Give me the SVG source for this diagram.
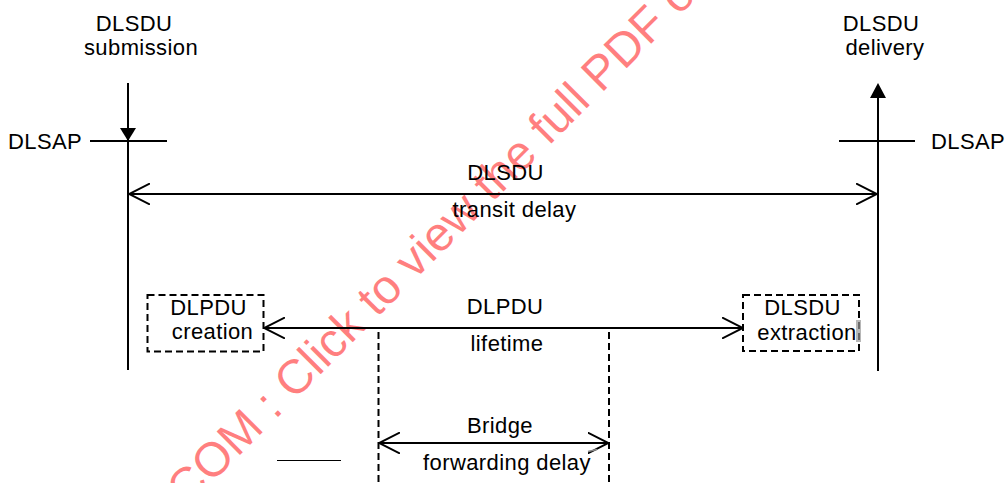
<svg xmlns="http://www.w3.org/2000/svg" width="1005" height="483" viewBox="0 0 1005 483">
  <style>
    .t { font-family: "Liberation Sans", Arial, sans-serif; font-size: 22px; fill: #000; letter-spacing: 0.4px; }
    .m { text-anchor: middle; }
    .ln { stroke: #000; stroke-width: 2; fill: none; }
    .dash { stroke: #000; stroke-width: 2; fill: none; stroke-dasharray: 7 4; }
    .wm { font-family: "Liberation Sans", Arial, sans-serif; font-size: 48px; fill: #ff0000; fill-opacity: 0.5; }
  </style>
  <defs>
    <marker id="open" viewBox="0 0 22 22" refX="21" refY="11" markerWidth="22" markerHeight="22" markerUnits="userSpaceOnUse" orient="auto-start-reverse">
      <polyline points="0,0.5 21,11 0,21.5" fill="none" stroke="#000" stroke-width="2"/>
    </marker>
  </defs>

  <rect width="1005" height="483" fill="#fff"/>

  <!-- watermark band -->
  <text class="wm" transform="translate(177,518) rotate(-45)">.COM : Click to view the full PDF of</text>

  <!-- service access points -->
  <g id="sap-left">
    <text class="t" x="8" y="149">DLSAP</text>
    <line class="ln" x1="90" y1="141" x2="167" y2="141"/>
  </g>
  <g id="sap-right">
    <text class="t" x="931" y="149">DLSAP</text>
    <line class="ln" x1="839" y1="141" x2="915" y2="141"/>
  </g>

  <g id="submission">
    <text class="t m" x="134" y="31">DLSDU</text>
    <text class="t m" x="141" y="55">submission</text>
  </g>
  <g id="delivery">
    <text class="t m" x="881" y="31">DLSDU</text>
    <text class="t m" x="885" y="55">delivery</text>
  </g>

  <g id="creation">
    <rect class="dash" x="147.5" y="295" width="116" height="56.5"/>
    <text class="t m" x="208.5" y="315">DLPDU</text>
    <text class="t m" x="212.5" y="339">creation</text>
  </g>
  <g id="extraction">
    <rect class="dash" x="743" y="295" width="116" height="56"/>
    <text class="t m" x="802.5" y="315">DLSDU</text>
    <text class="t m" x="807" y="340">extraction</text>
    <rect x="856" y="320" width="5" height="22" fill="#999" opacity="0.7"/>
  </g>

  <g id="transit-label">
    <text class="t m" x="505.5" y="180">DLSDU</text>
    <text class="t m" x="514.5" y="217">transit delay</text>
  </g>
  <g id="lifetime-label">
    <text class="t m" x="505" y="314">DLPDU</text>
    <text class="t m" x="507" y="351">lifetime</text>
  </g>
  <g id="bridge-label">
    <text class="t m" x="500" y="433">Bridge</text>
    <text class="t m" x="507" y="470">forwarding delay</text>
  </g>

  <g id="connectors">
    <!-- time axes of the two end stations -->
    <line class="ln" x1="128" y1="83" x2="128" y2="370"/>
    <line class="ln" x1="878" y1="96" x2="878" y2="371"/>
    <polygon points="120,128 136,128 128,141" fill="#000"/>
    <polygon points="870,98 886,98 878,83" fill="#000"/>

    <!-- bridge boundaries -->
    <line class="dash" x1="378.5" y1="332" x2="378.5" y2="483" stroke-dasharray="7 5"/>
    <line class="dash" x1="609" y1="332" x2="609" y2="483" stroke-dasharray="7 5"/>

    <!-- delay spans -->
    <line class="ln" x1="129" y1="194" x2="877" y2="194" marker-start="url(#open)" marker-end="url(#open)"/>
    <line class="ln" x1="264" y1="328" x2="743" y2="328" marker-start="url(#open)" marker-end="url(#open)"/>
    <line class="ln" x1="379" y1="443" x2="608.5" y2="443" marker-start="url(#open)" marker-end="url(#open)"/>

    <line x1="277" y1="460.5" x2="341" y2="460.5" stroke="#000" stroke-width="1"/>
    <line x1="588" y1="451.5" x2="597" y2="449.5" stroke="#888" stroke-width="1.5"/>
  </g>
</svg>
